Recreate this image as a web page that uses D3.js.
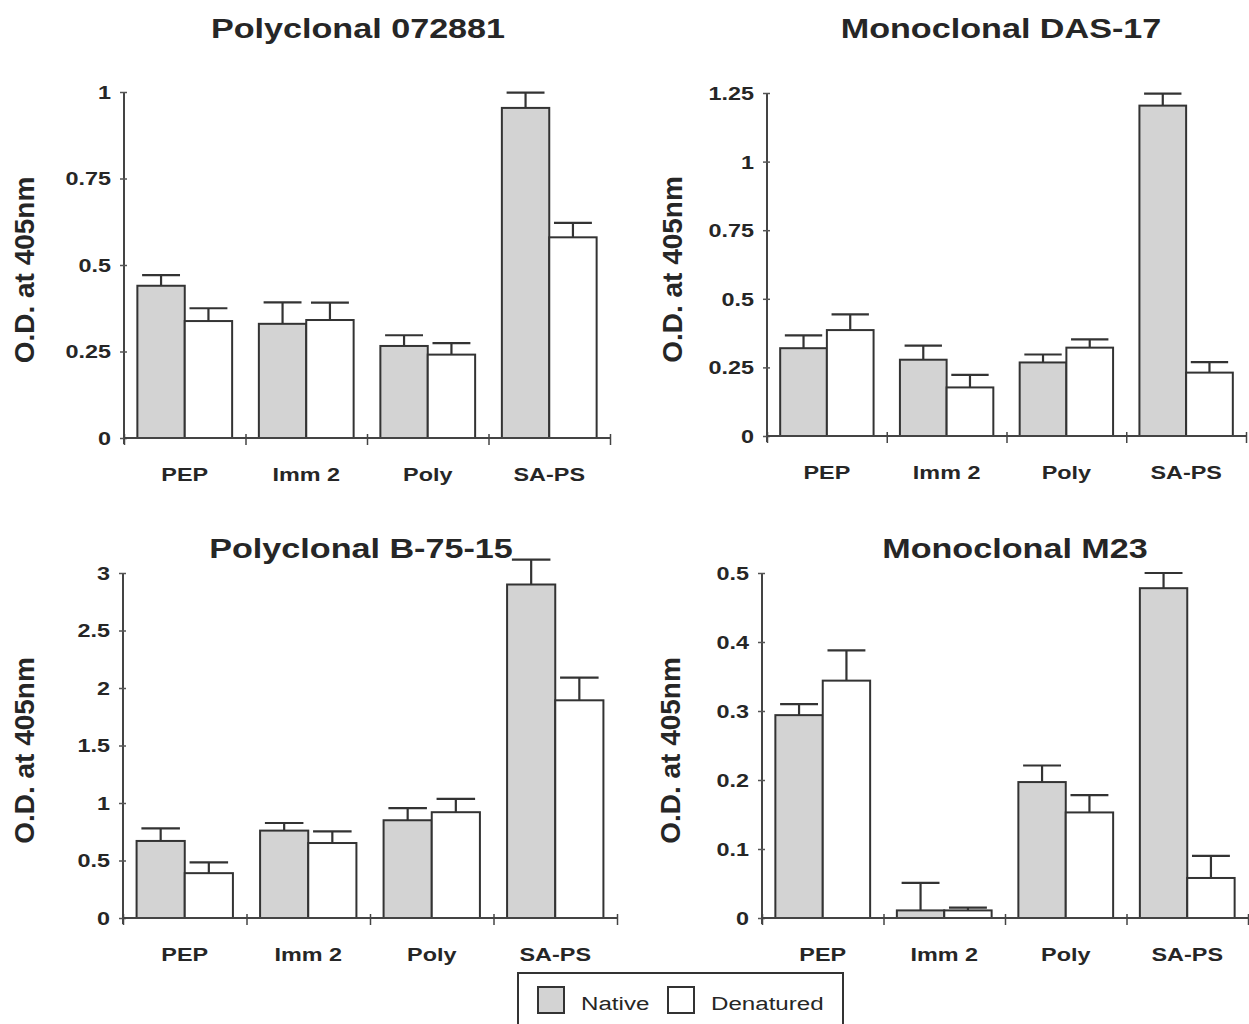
<!DOCTYPE html>
<html lang="en">
<head>
  <meta charset="utf-8">
  <title>O.D. at 405nm - native vs denatured</title>
  <script src="https://cdn.jsdelivr.net/npm/d3@7"></script>
  <style>
    body { margin: 0; background: #fff; }
    text { font-family: "Liberation Sans", Arial, sans-serif; fill: #262626; }
  </style>
</head>
<body>
  <svg id="chart" width="1249" height="1024"></svg>

  <script>
    // categories and series
    const categories = ["PEP", "Imm 2", "Poly", "SA-PS"];
    const seriesNames = ["Native", "Denatured"];
    const titles = ["Polyclonal 072881", "Monoclonal DAS-17", "Polyclonal B-75-15", "Monoclonal M23"];
    const yLabel = "O.D. at 405nm";

    // Polyclonal 072881
    const native072881 = [0.44, 0.33, 0.266, 0.954];
    const nativeErr072881 = [0.031, 0.062, 0.031, 0.044];
    const denat072881 = [0.338, 0.341, 0.241, 0.58];
    const denatErr072881 = [0.037, 0.05, 0.033, 0.042];
    const ticks072881 = [0, 0.25, 0.5, 0.75, 1];

    // Monoclonal DAS-17
    const nativeDAS17 = [0.32, 0.278, 0.268, 1.204];
    const nativeErrDAS17 = [0.047, 0.051, 0.029, 0.044];
    const denatDAS17 = [0.386, 0.177, 0.322, 0.231];
    const denatErrDAS17 = [0.057, 0.046, 0.03, 0.038];
    const ticksDAS17 = [0, 0.25, 0.5, 0.75, 1, 1.25];

    // Polyclonal B-75-15
    const nativeB7515 = [0.67, 0.76, 0.85, 2.9];
    const nativeErrB7515 = [0.11, 0.066, 0.105, 0.216];
    const denatB7515 = [0.39, 0.652, 0.92, 1.893];
    const denatErrB7515 = [0.094, 0.102, 0.116, 0.197];
    const ticksB7515 = [0, 0.5, 1, 1.5, 2, 2.5, 3];

    // Monoclonal M23
    const nativeM23 = [0.294, 0.011, 0.197, 0.478];
    const nativeErrM23 = [0.016, 0.04, 0.024, 0.022];
    const denatM23 = [0.344, 0.011, 0.153, 0.058];
    const denatErrM23 = [0.044, 0.004, 0.025, 0.032];
    const ticksM23 = [0, 0.1, 0.2, 0.3, 0.4, 0.5];

    // where each panel sits on the page
    const layout = [
      { left: 124, right: 610, top: 92, bottom: 438, titleX: 358, titleY: 38, labelX: 34 },
      { left: 767, right: 1246, top: 93, bottom: 436, titleX: 1001, titleY: 38, labelX: 682 },
      { left: 123, right: 617, top: 573, bottom: 918, titleX: 361, titleY: 558, labelX: 34 },
      { left: 762, right: 1248, top: 573, bottom: 918, titleX: 1015, titleY: 558, labelX: 680 }
    ];

    const panels = [
      { native: native072881, nativeErr: nativeErr072881, denat: denat072881, denatErr: denatErr072881, ticks: ticks072881 },
      { native: nativeDAS17, nativeErr: nativeErrDAS17, denat: denatDAS17, denatErr: denatErrDAS17, ticks: ticksDAS17 },
      { native: nativeB7515, nativeErr: nativeErrB7515, denat: denatB7515, denatErr: denatErrB7515, ticks: ticksB7515 },
      { native: nativeM23, nativeErr: nativeErrM23, denat: denatM23, denatErr: denatErrM23, ticks: ticksM23 }
    ].map((p, i) => Object.assign(p, layout[i], { title: titles[i] }));

    const fills = { Native: "#d3d3d3", Denatured: "#ffffff" };
    const ink = "#333";
    const labelInk = "#3a3a3a";

    const svg = d3.select("#chart");

    // the figure is wider than the font, so text gets stretched sideways
    const stretchText = function (g, x, y, txt, size, weight, sx, anchor) {
      return g.append("text")
        .attr("transform", `translate(${x},${y}) scale(${sx},1)`)
        .attr("text-anchor", anchor || "middle")
        .style("font-size", size + "px")
        .style("font-weight", weight)
        .text(txt);
    };

    panels.forEach(function (p) {
      const g = svg.append("g");

      const x0 = d3.scaleBand().domain(categories).range([p.left, p.right])
        .paddingInner(0.22).paddingOuter(0.11);
      const x1 = d3.scaleBand().domain(seriesNames).range([0, x0.bandwidth()]);
      const y = d3.scaleLinear().domain([0, d3.max(p.ticks)]).range([p.bottom, p.top]);
      const xb = d3.scaleLinear().domain([0, categories.length]).range([p.left, p.right]);

      const rows = [];
      categories.forEach(function (c, i) {
        rows.push({ cat: c, s: "Native", v: p.native[i], e: p.nativeErr[i] });
        rows.push({ cat: c, s: "Denatured", v: p.denat[i], e: p.denatErr[i] });
      });

      // error bars first, bars drawn over them
      const capW = x1.bandwidth() * 0.8;
      const err = g.append("g").attr("stroke", ink).attr("stroke-width", 2.2);
      rows.forEach(function (d) {
        const cx = x0(d.cat) + x1(d.s) + x1.bandwidth() / 2;
        err.append("line").attr("x1", cx).attr("x2", cx).attr("y1", y(d.v)).attr("y2", y(d.v + d.e));
        err.append("line").attr("x1", cx - capW / 2).attr("x2", cx + capW / 2)
          .attr("y1", y(d.v + d.e)).attr("y2", y(d.v + d.e));
      });

      g.append("g").selectAll("rect").data(rows).join("rect")
        .attr("x", d => x0(d.cat) + x1(d.s))
        .attr("y", d => y(d.v))
        .attr("width", x1.bandwidth())
        .attr("height", d => y(0) - y(d.v))
        .attr("fill", d => fills[d.s])
        .attr("stroke", ink)
        .attr("stroke-width", 2);

      // y axis
      const tsx = 1.3;
      const yAxis = g.append("g").attr("transform", `translate(${p.left},0)`)
        .call(d3.axisLeft(y).tickValues(p.ticks).tickFormat(d => String(d)).tickSizeOuter(0));
      yAxis.select(".domain").attr("stroke", "#444").attr("stroke-width", 2)
        .attr("d", `M0,${p.top}V${p.bottom + 6}`);
      yAxis.selectAll(".tick line").attr("x1", -4).attr("x2", 3).attr("stroke", "#555").attr("stroke-width", 1.5);
      yAxis.selectAll(".tick text")
        .attr("x", -13 / tsx).attr("dy", "0.36em")
        .attr("transform", `scale(${tsx},1)`)
        .style("font-size", "18px").style("font-weight", "bold")
        .style("font-family", null).attr("fill", labelInk);

      // x axis with boundary ticks
      const xAxis = g.append("g").attr("transform", `translate(0,${p.bottom})`)
        .call(d3.axisBottom(xb).tickValues(d3.range(categories.length + 1)).tickFormat("").tickSizeOuter(0));
      xAxis.select(".domain").attr("stroke", "#444").attr("stroke-width", 2)
        .attr("d", `M${p.left},0H${p.right}`);
      xAxis.selectAll(".tick line").attr("y1", -4).attr("y2", 7).attr("stroke", "#444").attr("stroke-width", 1.5);

      categories.forEach(function (c) {
        stretchText(g, x0(c) + x0.bandwidth() / 2, p.bottom + 43, c, 18, "bold", tsx)
          .attr("fill", labelInk);
      });

      stretchText(g, p.titleX, p.titleY, p.title, 28, "bold", 1.22);

      g.append("text")
        .attr("transform", `translate(${p.labelX},${(p.top + p.bottom) / 2 + 5}) rotate(-90)`)
        .attr("text-anchor", "middle")
        .style("font-size", "28px")
        .style("font-weight", "bold")
        .text(yLabel);
    });

    // legend
    const lg = svg.append("g");
    lg.append("rect").attr("x", 518).attr("y", 973).attr("width", 325).attr("height", 52)
      .attr("fill", "#fff").attr("stroke", "#333").attr("stroke-width", 2);
    const legendX = { Native: 538, Denatured: 668 };
    seriesNames.forEach(function (s) {
      lg.append("rect").attr("x", legendX[s]).attr("y", 987).attr("width", 26).attr("height", 26)
        .attr("fill", fills[s]).attr("stroke", ink).attr("stroke-width", 2);
      stretchText(lg, legendX[s] + 43, 1010, s, 19, "normal", 1.27, "start").attr("fill", "#3a3a3a");
    });
  </script>
</body>
</html>
